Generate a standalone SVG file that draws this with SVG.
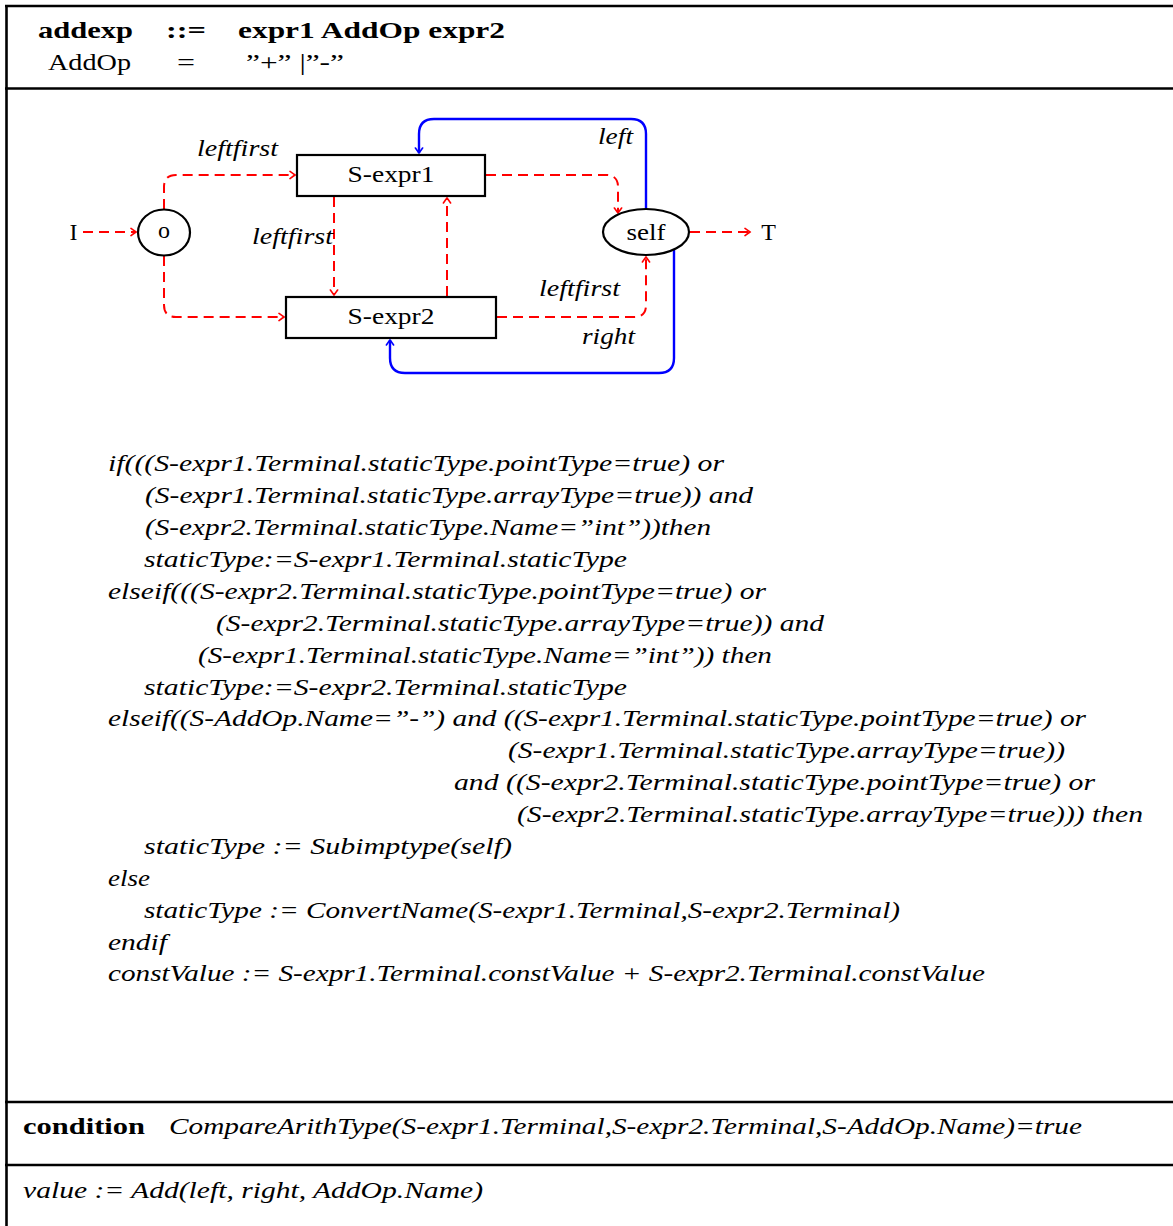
<svg xmlns="http://www.w3.org/2000/svg" width="1173" height="1226" viewBox="0 0 1173 1226">
  <defs>
    <marker id="arrRed" markerWidth="12" markerHeight="12" refX="0" refY="0" viewBox="-6 -6 12 12" orient="auto" markerUnits="userSpaceOnUse">
      <path d="M-5,-3.6 Q-1.2,-0.9 0,0 Q-1.2,0.9 -5,3.6" fill="none" stroke="#ff0000" stroke-width="1.6" stroke-linecap="round"/>
    </marker>
    <marker id="arrBlue" markerWidth="12" markerHeight="12" refX="0" refY="0" viewBox="-6 -6 12 12" orient="auto" markerUnits="userSpaceOnUse">
      <path d="M-5,-3.6 Q-1.2,-0.9 0,0 Q-1.2,0.9 -5,3.6" fill="none" stroke="#0000ff" stroke-width="1.6" stroke-linecap="round"/>
    </marker>
  </defs>
  <style>
    text { font-family: "Liberation Serif", "DejaVu Serif", serif; fill: #000; }
    .hd { font-size: 24px; font-weight: bold; }
    .rm { font-size: 24px; }
    .it { font-size: 24px; font-style: italic; }
    .nd { font-size: 24px; }
    .lbl { font-size: 23px; font-style: italic; }
    .frame { stroke: #000; stroke-width: 2.6; fill: none; }
    .box { stroke: #000; stroke-width: 2.2; fill: #fff; }
    .dep { stroke: #ff0000; stroke-width: 2; fill: none; stroke-dasharray: 10 6; marker-end: url(#arrRed); }
    .val { stroke: #0000ff; stroke-width: 2.4; fill: none; marker-end: url(#arrBlue); }
  </style>
  <rect width="1173" height="1226" fill="#fff"/>

  <!-- table frame -->
  <g id="frame">
    <line class="frame" x1="6.5" y1="5" x2="6.5" y2="1226"/>
    <line class="frame" x1="5" y1="6" x2="1173" y2="6"/>
    <line class="frame" x1="5" y1="88.5" x2="1173" y2="88.5"/>
    <line class="frame" x1="5" y1="1102" x2="1173" y2="1102"/>
    <line class="frame" x1="5" y1="1165" x2="1173" y2="1165"/>
  </g>

  <!-- production header -->
  <g id="header">
    <text class="hd" x="38" y="38" textLength="95" lengthAdjust="spacingAndGlyphs">addexp</text>
    <text class="hd" x="166" y="38" textLength="40" lengthAdjust="spacingAndGlyphs">::=</text>
    <text class="hd" x="238" y="38" textLength="267" lengthAdjust="spacingAndGlyphs">expr1 AddOp expr2</text>
    <text class="rm" x="48" y="70" textLength="83" lengthAdjust="spacingAndGlyphs">AddOp</text>
    <text class="rm" x="177" y="70" textLength="18" lengthAdjust="spacingAndGlyphs">=</text>
    <text class="rm" x="246" y="70" textLength="98" lengthAdjust="spacingAndGlyphs">”+” |”-”</text>
  </g>

  <!-- dependency graph connectors -->
  <g id="connectors">
    <path class="dep" d="M83,232 H136"/>
    <path class="dep" d="M164,209 V187 Q164,175 176,175 H295"/>
    <path class="dep" d="M164,256 V305 Q164,317 176,317 H284"/>
    <path class="dep" d="M334,197 V295"/>
    <path class="dep" d="M447,296 V198"/>
    <path class="dep" d="M486,175 H606 Q618,175 618,187 V213"/>
    <path class="dep" d="M497,317 H634 Q646,317 646,305 V257"/>
    <path class="dep" d="M690,232 H750"/>
    <path class="val" d="M646,209 V134 Q646,119 631,119 H434 Q419,119 419,134 V153"/>
    <path class="val" d="M674,249 V358 Q674,373 659,373 H405 Q390,373 390,358 V340"/>
    <text class="lbl" x="197" y="156" textLength="81" lengthAdjust="spacingAndGlyphs">leftfirst</text>
    <text class="lbl" x="252" y="244" textLength="81" lengthAdjust="spacingAndGlyphs">leftfirst</text>
    <text class="lbl" x="539" y="296" textLength="81" lengthAdjust="spacingAndGlyphs">leftfirst</text>
    <text class="lbl" x="598" y="144" textLength="35" lengthAdjust="spacingAndGlyphs">left</text>
    <text class="lbl" x="582" y="344" textLength="53" lengthAdjust="spacingAndGlyphs">right</text>
  </g>

  <!-- graph nodes -->
  <g id="node-I">
    <text class="nd" x="73.5" y="240" text-anchor="middle">I</text>
  </g>
  <g id="node-o">
    <ellipse class="box" cx="164" cy="232.5" rx="26" ry="23"/>
    <text class="nd" x="164" y="238" text-anchor="middle" font-size="20">o</text>
  </g>
  <g id="node-sexpr1">
    <rect class="box" x="297" y="155" width="188" height="41"/>
    <text class="nd" x="391" y="182" text-anchor="middle" textLength="87" lengthAdjust="spacingAndGlyphs">S-expr1</text>
  </g>
  <g id="node-sexpr2">
    <rect class="box" x="286" y="297" width="210" height="41"/>
    <text class="nd" x="391" y="324" text-anchor="middle" textLength="87" lengthAdjust="spacingAndGlyphs">S-expr2</text>
  </g>
  <g id="node-self">
    <ellipse class="box" cx="646" cy="232" rx="43" ry="23"/>
    <text class="nd" x="646" y="240" text-anchor="middle" textLength="39" lengthAdjust="spacingAndGlyphs">self</text>
  </g>
  <g id="node-T">
    <text class="nd" x="768.5" y="240" text-anchor="middle">T</text>
  </g>

  <!-- semantic rules -->
  <g id="rules">
    <text class="it" x="108" y="471" textLength="616" lengthAdjust="spacingAndGlyphs">if(((S-expr1.Terminal.staticType.pointType=true) or</text>
    <text class="it" x="145" y="503" textLength="608" lengthAdjust="spacingAndGlyphs">(S-expr1.Terminal.staticType.arrayType=true)) and</text>
    <text class="it" x="145" y="535" textLength="566" lengthAdjust="spacingAndGlyphs">(S-expr2.Terminal.staticType.Name=”int”))then</text>
    <text class="it" x="144" y="567" textLength="483" lengthAdjust="spacingAndGlyphs">staticType:=S-expr1.Terminal.staticType</text>
    <text class="it" x="108" y="599" textLength="658" lengthAdjust="spacingAndGlyphs">elseif(((S-expr2.Terminal.staticType.pointType=true) or</text>
    <text class="it" x="216" y="631" textLength="608" lengthAdjust="spacingAndGlyphs">(S-expr2.Terminal.staticType.arrayType=true)) and</text>
    <text class="it" x="198" y="663" textLength="574" lengthAdjust="spacingAndGlyphs">(S-expr1.Terminal.staticType.Name=”int”)) then</text>
    <text class="it" x="144" y="695" textLength="483" lengthAdjust="spacingAndGlyphs">staticType:=S-expr2.Terminal.staticType</text>
    <text class="it" x="108" y="726" textLength="978" lengthAdjust="spacingAndGlyphs">elseif((S-AddOp.Name=”-”) and ((S-expr1.Terminal.staticType.pointType=true) or</text>
    <text class="it" x="508" y="758" textLength="557" lengthAdjust="spacingAndGlyphs">(S-expr1.Terminal.staticType.arrayType=true))</text>
    <text class="it" x="454" y="790" textLength="641" lengthAdjust="spacingAndGlyphs">and ((S-expr2.Terminal.staticType.pointType=true) or</text>
    <text class="it" x="517" y="822" textLength="626" lengthAdjust="spacingAndGlyphs">(S-expr2.Terminal.staticType.arrayType=true))) then</text>
    <text class="it" x="144" y="854" textLength="368" lengthAdjust="spacingAndGlyphs">staticType := Subimptype(self)</text>
    <text class="it" x="108" y="886" textLength="42" lengthAdjust="spacingAndGlyphs">else</text>
    <text class="it" x="144" y="918" textLength="756" lengthAdjust="spacingAndGlyphs">staticType := ConvertName(S-expr1.Terminal,S-expr2.Terminal)</text>
    <text class="it" x="108" y="950" textLength="59" lengthAdjust="spacingAndGlyphs">endif</text>
    <text class="it" x="108" y="981" textLength="877" lengthAdjust="spacingAndGlyphs">constValue := S-expr1.Terminal.constValue + S-expr2.Terminal.constValue</text>
  </g>

  <!-- condition and value rows -->
  <g id="condition">
    <text class="hd" x="23" y="1134" textLength="122" lengthAdjust="spacingAndGlyphs">condition</text>
    <text class="it" x="169" y="1134" textLength="913" lengthAdjust="spacingAndGlyphs">CompareArithType(S-expr1.Terminal,S-expr2.Terminal,S-AddOp.Name)=true</text>
  </g>
  <g id="value">
    <text class="it" x="23" y="1198" textLength="460" lengthAdjust="spacingAndGlyphs">value := Add(left, right, AddOp.Name)</text>
  </g>
</svg>
